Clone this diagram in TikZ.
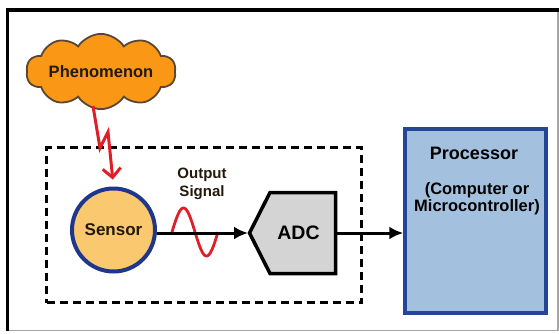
\documentclass[tikz,border=0pt]{standalone}
\usepackage{fontspec}
\setmainfont{Liberation Sans}
\usetikzlibrary{shapes.symbols,arrows.meta}
\definecolor{cloudfill}{RGB}{250,152,22}
\definecolor{cloudline}{RGB}{90,70,50}
\definecolor{sensorfill}{RGB}{250,200,110}
\definecolor{sensorline}{RGB}{30,55,140}
\definecolor{adcfill}{RGB}{212,212,212}
\definecolor{procfill}{RGB}{163,193,223}
\definecolor{procline}{RGB}{35,70,150}
\definecolor{wavered}{RGB}{225,30,40}
\definecolor{textdark}{RGB}{35,25,10}
\tikzset{
  lbl/.style={font=\bfseries, text=textdark, inner sep=0pt, align=center},
  blackarrow/.style={line width=3pt, -{Latex[length=14pt,width=13pt]}},
  boltarrow/.style={line width=3pt, draw=wavered, line join=miter, -{Straight Barb[length=9pt,width=18pt,line width=3pt]}},
}
\begin{document}
\begin{tikzpicture}[x=1pt,y=-1pt]
\useasboundingbox (0,0) rectangle (559,333);
% outer frame
\draw[line width=1.5pt, gray!70] (558,10) -- (558,330.5) -- (7,330.5);
\draw[line width=4pt] (5.5,10) -- (559,10);
\draw[line width=3pt] (7.5,8) -- (7.5,331);
% dashed box
\node[draw, line width=3pt, dash pattern=on 8pt off 5pt, minimum width=315pt, minimum height=155pt, inner sep=0pt] (dbox) at (204,225) {};
% cloud
\node[cloud, cloud puffs=10, cloud puff arc=115, aspect=2.8, minimum width=122pt, minimum height=10pt, inner sep=0pt, draw=cloudline, fill=cloudfill, line width=1.8pt, lbl, font=\bfseries\fontsize{16.5}{18}\selectfont] (phen) at (101,71.5) {Phenomenon};
% sensor
\node[circle, draw=sensorline, fill=sensorfill, line width=4pt, minimum size=83pt, inner sep=0pt, lbl, font=\bfseries\fontsize{17}{18}\selectfont] (sensor) at (113.5,230) {Sensor};
% lightning
\coordinate (b0) at (93,106);
\coordinate (b1) at (100,148);
\coordinate (b2) at (108,132);
\draw[boltarrow, shorten >=7pt] (b0) -- (b1) -- (b2) -- (sensor.north);
% ADC
\filldraw[fill=adcfill, draw=black, line width=3.5pt, line join=miter] (270,192.5) -- (335.5,192.5) -- (335.5,273.5) -- (270,273.5) -- (249.5,233) -- cycle;
\node[minimum width=67pt, minimum height=84pt, inner sep=0pt] (adc) at (303.5,233) {};
\coordinate (adctip) at (248,233);
\node[lbl, text=black, font=\bfseries\fontsize{19.5}{21}\selectfont] (adclbl) at (298.5,233) {ADC};
% processor
\node[draw=procline, fill=procfill, line width=3.5pt, minimum width=141pt, minimum height=184pt, inner sep=0pt] (proc) at (475.5,221) {};
\node[lbl, text=black, font=\bfseries\fontsize{18}{20}\selectfont] (ptitle) at (474,153) {Processor};
\node[lbl, text=black, font=\bfseries\fontsize{16.5}{17.3}\selectfont] (psub) at (477,199) {(Computer or\\Microcontroller)};
% wave
\draw[line width=2.8pt, wavered] plot[domain=0:360, samples=60] ({172+\x/360*46}, {232-24*sin(\x)});
\node[lbl, font=\bfseries\fontsize{15}{18}\selectfont] (outsig) at (202,184) {Output\\Signal};
% arrows
\draw[blackarrow] (sensor.east |- adctip) -- (adctip);
\draw[blackarrow] (adc.east) -- (proc.west |- adc.east);
\end{tikzpicture}
\end{document}
